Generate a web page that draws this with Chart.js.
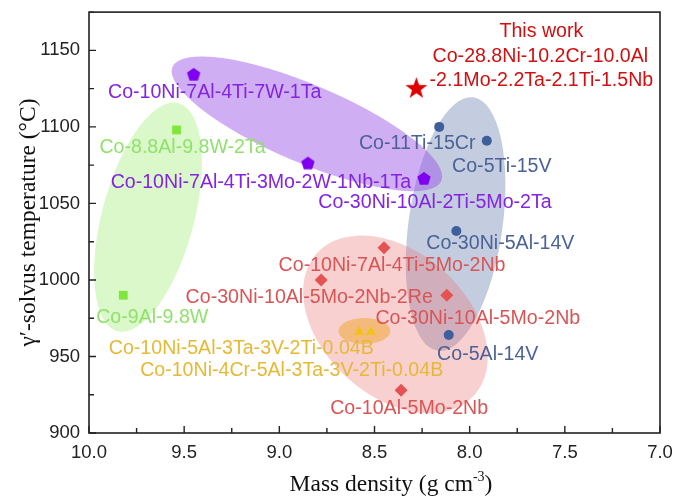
<!DOCTYPE html>
<html>
<head>
<meta charset="utf-8">
<script src="https://cdn.jsdelivr.net/npm/chart.js@4/dist/chart.umd.min.js"></script>
<style>
html, body { margin: 0; padding: 0; background: #fff; }
#wrap { width: 676px; height: 501px; }
</style>
</head>
<body>
<div id="wrap"><canvas id="myChart" width="676" height="501"></canvas></div>
<script>

// tick labels
var xTicks = [10.0, 9.5, 9.0, 8.5, 8.0, 7.5, 7.0];
var yTicks = [900, 950, 1000, 1050, 1100, 1150];

// alloys, mass density (g/cm3) and gamma' solvus (C)
var purpleNames = ['Co-10Ni-7Al-4Ti-7W-1Ta', 'Co-10Ni-7Al-4Ti-3Mo-2W-1Nb-1Ta', 'Co-30Ni-10Al-2Ti-5Mo-2Ta'];
var purpleDensity = [9.45, 8.85, 8.24];
var purpleTemp = [1134, 1076, 1066];

var greenNames = ['Co-8.8Al-9.8W-2Ta', 'Co-9Al-9.8W'];
var greenDensity = [9.54, 9.82];
var greenTemp = [1098, 990];

var blueNames = ['Co-11Ti-15Cr', 'Co-5Ti-15V', 'Co-30Ni-5Al-14V', 'Co-5Al-14V'];
var blueDensity = [8.16, 7.91, 8.07, 8.11];
var blueTemp = [1100, 1091, 1032, 964];

var redNames = ['Co-10Ni-7Al-4Ti-5Mo-2Nb', 'Co-30Ni-10Al-5Mo-2Nb-2Re', 'Co-30Ni-10Al-5Mo-2Nb', 'Co-10Al-5Mo-2Nb'];
var redDensity = [8.45, 8.78, 8.12, 8.36];
var redTemp = [1021, 1000, 990, 928];

var orangeNames = ['Co-10Ni-5Al-3Ta-3V-2Ti-0.04B', 'Co-10Ni-4Cr-5Al-3Ta-3V-2Ti-0.04B'];
var orangeDensity = [8.58, 8.52];
var orangeTemp = [966, 966];

var thisWorkLines = ['This work', 'Co-28.8Ni-10.2Cr-10.0Al', '-2.1Mo-2.2Ta-2.1Ti-1.5Nb'];
var thisWorkDensity = [8.28];
var thisWorkTemp = [1125];

// label offsets from their marker, in px
var purpleOffsets = [[21, 18], [-47, 19], [11, 24]];
var greenOffsets = [[6, 18], [29, 22]];
var blueOffsets = [[-22, 17], [15, 26], [44, 13], [39, 20]];
var redOffsets = [[8, 18], [-12, 18], [31, 23], [8, 18]];
var orangeOffsets = [[-118, 17], [-79, 39]];
var thisWorkOffsets = [[125, -57], [124, -32], [125, -8]];

// shaded groups: centre in data units, radii/angle in px
var groupShades = [
	{ x: 9.69, y: 1041, a: 118, b: 46, rot: -75, color: 'rgba(150,235,100,0.35)' },
	{ x: 8.074, y: 1036.5, a: 128, b: 47, rot: -82, color: 'rgba(70,100,160,0.32)' },
	{ x: 8.855, y: 1102, a: 146, b: 39, rot: 23, color: 'rgba(150,75,230,0.45)' },
	{ x: 8.39, y: 971, a: 106, b: 72, rot: 42, color: 'rgba(232,110,110,0.32)' },
	{ x: 8.553, y: 966.6, a: 26, b: 13, rot: 0, color: 'rgba(240,165,40,0.5)' }
];

function toPoints(xs, ys){
	return xs.map(function(x, i){ return { x: x, y: ys[i] }; });
}

function makeShape(nPts, outerR, innerR, color){
	var c = document.createElement('canvas');
	var s = Math.ceil(outerR * 2 + 2);
	c.width = s; c.height = s;
	var g = c.getContext('2d');
	g.fillStyle = color;
	g.beginPath();
	var steps = innerR ? nPts * 2 : nPts;
	for (var i = 0; i < steps; i++) {
		var r = (innerR && i % 2 === 1) ? innerR : outerR;
		var ang = -Math.PI / 2 + i * 2 * Math.PI / steps;
		var px = s / 2 + r * Math.cos(ang);
		var py = s / 2 + r * Math.sin(ang);
		if (i === 0) g.moveTo(px, py); else g.lineTo(px, py);
	}
	g.closePath();
	g.fill();
	return c;
}

var pentagon = makeShape(5, 7, 0, '#7f00f0');
var star = makeShape(5, 11.5, 4.6, '#e00000');

var shadePlugin = {
	id: 'shades',
	beforeDatasetsDraw(chart){
		var ctx = chart.ctx, xs = chart.scales.x, ys = chart.scales.y;
		ctx.save();
		groupShades.forEach(function(e){
			ctx.beginPath();
			ctx.ellipse(xs.getPixelForValue(e.x), ys.getPixelForValue(e.y), e.a, e.b, e.rot * Math.PI / 180, 0, 2 * Math.PI);
			ctx.fillStyle = e.color;
			ctx.fill();
		});
		ctx.restore();
	}
};

var labelGroups = [
	{ names: purpleNames, xs: purpleDensity, ys: purpleTemp, off: purpleOffsets, color: '#8424e0' },
	{ names: greenNames, xs: greenDensity, ys: greenTemp, off: greenOffsets, color: '#8ee26a' },
	{ names: blueNames, xs: blueDensity, ys: blueTemp, off: blueOffsets, color: '#4b6296' },
	{ names: redNames, xs: redDensity, ys: redTemp, off: redOffsets, color: '#d95555' },
	{ names: orangeNames, xs: orangeDensity, ys: orangeTemp, off: orangeOffsets, color: '#e6b935' }
];

var serif = '"Liberation Serif", "Times New Roman", serif';

var textPlugin = {
	id: 'texts',
	afterDraw(chart){
		var ctx = chart.ctx, xs = chart.scales.x, ys = chart.scales.y, area = chart.chartArea;
		ctx.save();

		// frame
		ctx.strokeStyle = '#222';
		ctx.lineWidth = 1.6;
		ctx.strokeRect(area.left, area.top, area.right - area.left, area.bottom - area.top);

		// inward ticks, minor ones between labelled ones
		ctx.lineWidth = 1.4;
		ctx.beginPath();
		xTicks.forEach(function(v, i){
			var px = xs.getPixelForValue(v);
			ctx.moveTo(px, area.bottom); ctx.lineTo(px, area.bottom - 7);
			if (i < xTicks.length - 1) {
				var pm = xs.getPixelForValue((v + xTicks[i + 1]) / 2);
				ctx.moveTo(pm, area.bottom); ctx.lineTo(pm, area.bottom - 5);
			}
		});
		yTicks.forEach(function(v, i){
			var py = ys.getPixelForValue(v);
			ctx.moveTo(area.left, py); ctx.lineTo(area.left + 7, py);
			var next = i < yTicks.length - 1 ? yTicks[i + 1] : v + 50;
			var pm = ys.getPixelForValue((v + next) / 2);
			ctx.moveTo(area.left, pm); ctx.lineTo(area.left + 5, pm);
		});
		ctx.stroke();

		// alloy labels
		ctx.font = '19.6px "Liberation Sans", Arial, sans-serif';
		ctx.textAlign = 'center';
		ctx.textBaseline = 'middle';
		labelGroups.forEach(function(g){
			ctx.fillStyle = g.color;
			g.names.forEach(function(n, i){
				ctx.fillText(n, xs.getPixelForValue(g.xs[i]) + g.off[i][0], ys.getPixelForValue(g.ys[i]) + g.off[i][1]);
			});
		});

		// this work
		ctx.fillStyle = '#d01010';
		var sx = xs.getPixelForValue(thisWorkDensity[0]), sy = ys.getPixelForValue(thisWorkTemp[0]);
		thisWorkLines.forEach(function(t, i){
			ctx.fillText(t, sx + thisWorkOffsets[i][0], sy + thisWorkOffsets[i][1]);
		});

		// x title with superscript
		ctx.fillStyle = '#111';
		ctx.textAlign = 'left';
		ctx.textBaseline = 'alphabetic';
		var main = 'Mass density (g cm';
		ctx.font = '23.5px ' + serif;
		var w1 = ctx.measureText(main).width;
		ctx.font = '14px ' + serif;
		var w2 = ctx.measureText('-3').width;
		ctx.font = '23.5px ' + serif;
		var w3 = ctx.measureText(')').width;
		var x0 = 391 - (w1 + w2 + w3) / 2, base = 491;
		ctx.fillText(main, x0, base);
		ctx.font = '14px ' + serif;
		ctx.fillText('-3', x0 + w1, base - 10);
		ctx.font = '23.5px ' + serif;
		ctx.fillText(')', x0 + w1 + w2, base);

		ctx.restore();
	}
};

const ctx = document.getElementById('myChart').getContext('2d');
const chart = new Chart(ctx, {
	type: 'scatter',
	data: {
		datasets: [
			{ label: 'green', data: toPoints(greenDensity, greenTemp), pointStyle: 'rect', pointRadius: 6.2, backgroundColor: '#7fe63c', borderWidth: 0 },
			{ label: 'blue', data: toPoints(blueDensity, blueTemp), pointStyle: 'circle', pointRadius: 5, backgroundColor: '#3f5e9c', borderWidth: 0 },
			{ label: 'purple', data: toPoints(purpleDensity, purpleTemp), pointStyle: pentagon, backgroundColor: '#7f00f0' },
			{ label: 'red', data: toPoints(redDensity, redTemp), pointStyle: 'rectRot', pointRadius: 6.5, backgroundColor: '#e45252', borderWidth: 0 },
			{ label: 'orange', data: toPoints(orangeDensity, orangeTemp), pointStyle: 'triangle', pointRadius: 6, backgroundColor: '#f2c21c', borderWidth: 0 },
			{ label: 'this work', data: toPoints(thisWorkDensity, thisWorkTemp), pointStyle: star, backgroundColor: '#e00000' }
		]
	},
	options: {
		responsive: false,
		animation: false,
		devicePixelRatio: 1,
		events: [],
		layout: { padding: { top: 8, right: 16, left: 0, bottom: 0 } },
		plugins: { legend: { display: false }, tooltip: { enabled: false } },
		scales: {
			x: {
				type: 'linear',
				reverse: true,
				min: 7, max: 10,
				afterBuildTicks: function(scale){ scale.ticks = xTicks.map(function(v){ return { value: v }; }); },
				afterFit: function(scale){ scale.height = 68; },
				grid: { display: false },
				border: { display: false },
				ticks: {
					autoSkip: false, maxRotation: 0, padding: 1,
					color: '#222',
					font: { family: '"Liberation Sans", Arial, sans-serif', size: 18.5 },
					callback: function(v){ return Number(v).toFixed(1); }
				}
			},
			y: {
				type: 'linear',
				min: 900, max: 1175,
				afterBuildTicks: function(scale){ scale.ticks = yTicks.map(function(v){ return { value: v }; }); },
				afterFit: function(scale){ scale.width = 89; },
				grid: { display: false },
				border: { display: false },
				ticks: {
					padding: 1,
					color: '#222',
					font: { family: '"Liberation Sans", Arial, sans-serif', size: 18.5 },
					callback: function(v){ return String(v); }
				},
				title: {
					display: true,
					text: 'γ′-solvus temperature (°C)',
					color: '#111',
					padding: { top: 15, bottom: 0 },
					font: { family: serif, size: 23.5 }
				}
			}
		}
	},
	plugins: [shadePlugin, textPlugin]
});

</script>
</body>
</html>
